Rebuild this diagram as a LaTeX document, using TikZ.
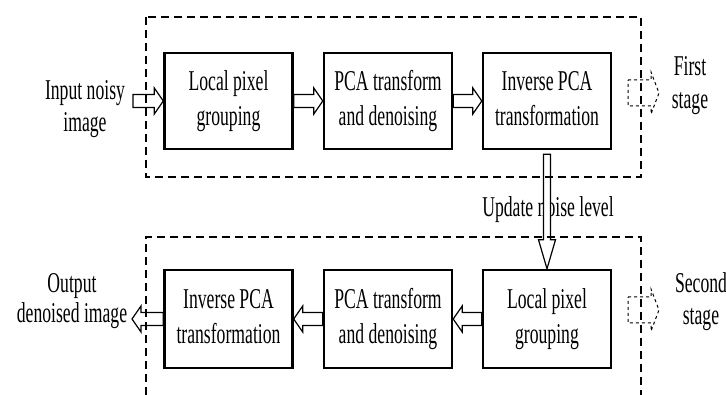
\documentclass[tikz,border=0pt]{standalone}
\usepackage{fontspec}
\setmainfont{Liberation Serif}
\usetikzlibrary{calc}
\newcommand\sx[1]{\scalebox{0.615}[1]{\strut #1}}
\newcommand\arrR[2]{\draw[blk] ($(#1)+(0,-6.5)$) -- ($(#2)+(-9,-6.5)$) -- ($(#2)+(-9,-13)$) -- (#2) -- ($(#2)+(-9,13)$) -- ($(#2)+(-9,6.5)$) -- ($(#1)+(0,6.5)$) -- cycle;}
\newcommand\arrL[2]{\draw[blk] ($(#1)+(0,-6.5)$) -- ($(#2)+(9,-6.5)$) -- ($(#2)+(9,-13)$) -- (#2) -- ($(#2)+(9,13)$) -- ($(#2)+(9,6.5)$) -- ($(#1)+(0,6.5)$) -- cycle;}
\newcommand\arrD[2]{\draw[blk] ($(#1)+(-3.5,0)$) -- ($(#2)+(-3.5,-29)$) -- ($(#2)+(-8.5,-29)$) -- (#2) -- ($(#2)+(8.5,-29)$) -- ($(#2)+(3.5,-29)$) -- ($(#1)+(3.5,0)$) -- cycle;}
\newcommand\darr[1]{\draw[dsh] ($(#1)+(0,-13)$) -- ($(#1)+(23,-13)$) -- ($(#1)+(23,-21)$) -- ($(#1)+(31,0)$) -- ($(#1)+(23,21)$) -- ($(#1)+(23,13)$) -- ($(#1)+(0,13)$) -- cycle;}
\begin{document}
\begin{tikzpicture}[x=1pt,y=-1pt,
  box/.style={draw, line width=2.4pt, minimum width=128pt, minimum height=96pt, inner sep=0pt, align=center, font=\fontsize{28.7}{35}\selectfont},
  lbl/.style={align=center, inner sep=0pt},
  stagebox/.style={line width=2.2pt, dash pattern=on 8pt off 5pt},
  blk/.style={draw, line width=1.2pt, fill=white, line join=miter},
  dsh/.style={line width=1pt, dash pattern=on 3pt off 3pt}]
\useasboundingbox[fill=white] (0,0) rectangle (726,395);
% labels
\node[lbl, font=\fontsize{28.7}{35}\selectfont] (upd) at (548,210) {\sx{Update noise level}};
\node[lbl, font=\fontsize{28.7}{32}\selectfont] (inp) at (85,109.6) {\sx{Input noisy}\\\sx{image}};
\node[lbl, font=\fontsize{28.7}{30}\selectfont] (outl) at (72,302) {\sx{Output}\\\sx{denoised image}};
\node[lbl, font=\fontsize{28.7}{33}\selectfont] (st1) at (690,85) {\sx{First}\\\sx{stage}};
\node[lbl, font=\fontsize{28.7}{32}\selectfont] (st2) at (701,302.6) {\sx{Second}\\\sx{stage}};
% boxes
\node[box] (b1) at (228.5,101) {\sx{Local pixel}\\\sx{grouping}};
\node[box] (b2) at (388,101) {\sx{PCA transform}\\\sx{and denoising}};
\node[box] (b3) at (547,101) {\sx{Inverse PCA}\\\sx{transformation}};
\node[box, minimum height=98pt] (b4) at (547,319) {\sx{Local pixel}\\\sx{grouping}};
\node[box, minimum height=98pt] (b5) at (388,319) {\sx{PCA transform}\\\sx{and denoising}};
\node[box, minimum height=98pt] (b6) at (228.5,319) {\sx{Inverse PCA}\\\sx{transformation}};
% arrows
\coordinate (in) at (133,101);
\coordinate (out) at (132,319);
\coordinate (d0) at ($(b3.south)+(0,4)$);
\arrR{in}{b1.west}
\arrR{b1.east}{b2.west}
\arrR{b2.east}{b3.west}
\arrD{d0}{b4.north}
\arrL{b4.west}{b5.east}
\arrL{b5.west}{b6.east}
\arrL{b6.west}{out}
% stage boxes
\draw[stagebox] (146,17) rectangle (641,177);
\draw[stagebox] (146,395) -- (146,237) -- (641,237) -- (641,395);
% dashed stage arrows
\coordinate (s1) at (628,93);
\coordinate (s2) at (628,310);
\darr{s1}
\darr{s2}
\end{tikzpicture}
\end{document}
